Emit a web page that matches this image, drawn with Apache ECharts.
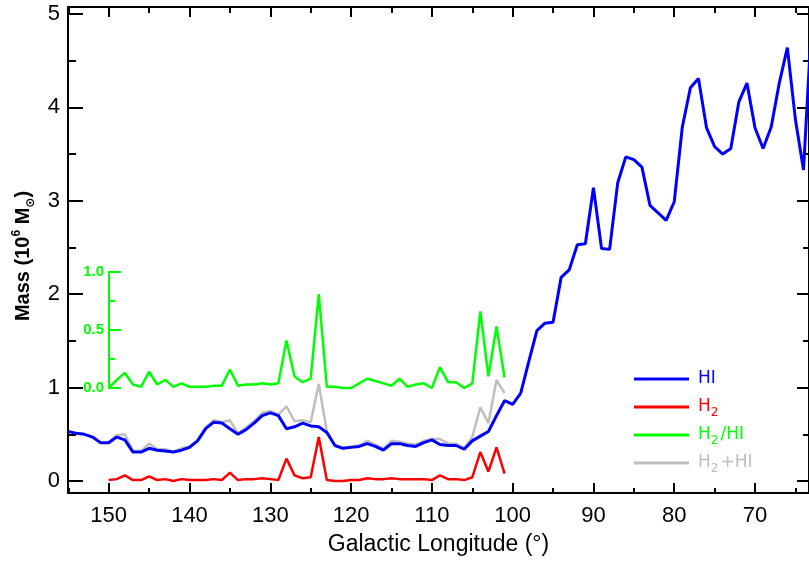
<!DOCTYPE html>
<html>
<head>
<meta charset="utf-8">
<script src="https://cdn.jsdelivr.net/npm/echarts@6/dist/echarts.min.js"></script>
<style>html,body{margin:0;padding:0;background:#fff;}#c{width:809px;height:562px;}</style>
</head>
<body>
<div id="c"></div>
<script>
// Longitudes (deg) and values
var hiLon = [155,154,153,152,151,150,149,148,147,146,145,144,143,142,141,140,139,138,137,136,135,134,133,132,131,130,129,128,127,126,125,124,123,122,121,120,119,118,117,116,115,114,113,112,111,110,109,108,107,106,105,104,103,102,101,100,99,98,97,96,95,94,93,92,91,90,89,88,87,86,85,84,83,82,81,80,79,78,77,76,75,74,73,72,71,70,69,68,67,66,65,64,63];
var hiMass = [0.53,0.51,0.50,0.47,0.41,0.41,0.47,0.44,0.31,0.31,0.35,0.33,0.32,0.31,0.33,0.36,0.43,0.56,0.63,0.62,0.56,0.50,0.55,0.62,0.70,0.73,0.70,0.56,0.58,0.62,0.59,0.58,0.52,0.38,0.35,0.36,0.37,0.40,0.37,0.33,0.40,0.40,0.38,0.37,0.41,0.44,0.39,0.38,0.38,0.34,0.43,0.48,0.53,0.70,0.86,0.82,0.94,1.28,1.61,1.69,1.70,2.18,2.26,2.53,2.54,3.14,2.49,2.48,3.19,3.47,3.44,3.36,2.95,2.87,2.79,2.99,3.79,4.21,4.31,3.78,3.58,3.50,3.56,4.06,4.26,3.78,3.56,3.79,4.26,4.64,3.87,3.33,4.90];
var h2Lon = [150,149,148,147,146,145,144,143,142,141,140,139,138,137,136,135,134,133,132,131,130,129,128,127,126,125,124,123,122,121,120,119,118,117,116,115,114,113,112,111,110,109,108,107,106,105,104,103,102,101];
var h2Mass = [0.01,0.02,0.06,0.01,0.01,0.05,0.01,0.02,0.00,0.02,0.01,0.01,0.01,0.02,0.01,0.09,0.01,0.02,0.02,0.03,0.02,0.01,0.24,0.06,0.03,0.04,0.47,0.01,0.00,0.00,0.01,0.01,0.03,0.02,0.02,0.03,0.02,0.02,0.02,0.02,0.01,0.06,0.02,0.02,0.01,0.04,0.31,0.10,0.36,0.08];
var ratio = [0.00,0.07,0.13,0.03,0.01,0.14,0.03,0.07,0.01,0.04,0.01,0.01,0.01,0.02,0.02,0.16,0.02,0.03,0.03,0.04,0.03,0.04,0.41,0.10,0.05,0.08,0.81,0.01,0.01,0.00,0.00,0.04,0.08,0.06,0.04,0.02,0.08,0.01,0.03,0.04,0.00,0.18,0.05,0.05,0.00,0.04,0.66,0.10,0.53,0.09];
var totalMass = [0.42,0.49,0.50,0.32,0.32,0.40,0.34,0.34,0.31,0.35,0.37,0.44,0.57,0.65,0.63,0.65,0.51,0.57,0.64,0.73,0.75,0.71,0.80,0.64,0.65,0.63,1.04,0.53,0.38,0.35,0.37,0.38,0.43,0.39,0.35,0.43,0.42,0.40,0.39,0.43,0.45,0.45,0.40,0.40,0.35,0.47,0.79,0.62,1.08,0.94];
var xMajor = [150,140,130,120,110,100,90,80,70];
var xMinor = [155,145,135,125,115,105,95,85,75,65];
var yMajor = [0,1,2,3,4,5];
var yMinor = [0.5,1.5,2.5,3.5,4.5];
var rMajor = [0,0.5,1];
var rMinor = [0.25,0.75];

function pairs(xs, ys){ return xs.map(function(x,i){ return [x, ys[i]]; }); }

var X_MIN = 63.32, X_MAX = 155.04, Y_MIN = -0.1285, Y_MAX = 5.075;
var BLK = '#000';
function xAx(pos, vals, len, labels, line, grid){
  return {
    type:'value', gridIndex: grid||0, position: pos, min: X_MIN, max: X_MAX, inverse: true,
    show: true,
    axisLine: {show: !!line, onZero:false, lineStyle:{color:BLK, width:2}},
    axisTick: {show:true, inside:true, length:len, lineStyle:{color:BLK, width:2}, customValues: vals},
    axisLabel: labels ? {show:true, customValues: vals, color:BLK, fontSize:22, fontFamily:'Liberation Sans', margin:12} : {show:false},
    splitLine:{show:false}
  };
}
function yAx(pos, vals, len, labels, line){
  return {
    type:'value', gridIndex:0, position: pos, min: Y_MIN, max: Y_MAX,
    axisLine: {show: !!line, onZero:false, lineStyle:{color:BLK, width:2}},
    axisTick: {show:true, inside:true, length:len, lineStyle:{color:BLK, width:2}, customValues: vals},
    axisLabel: labels ? {show:true, customValues: vals, color:BLK, fontSize:22, fontFamily:'Liberation Sans', margin:8} : {show:false},
    splitLine:{show:false}
  };
}

var xAxes = [
  xAx('bottom', xMajor, 10, true, true),
  xAx('bottom', xMinor, 5, false, false),
  xAx('top', xMajor, 10, false, true),
  xAx('top', xMinor, 6, false, false),
  {type:'value', gridIndex:1, min:X_MIN, max:X_MAX, inverse:true, show:false}
];
xAxes[0].name = 'Galactic Longitude (°)';
xAxes[0].nameLocation = 'middle';
xAxes[0].nameGap = 40;
xAxes[0].nameTextStyle = {color:BLK, fontSize:23, fontFamily:'Liberation Sans'};

var yAxes = [
  yAx('left', yMajor, 15, true, true),
  yAx('left', yMinor, 8, false, false),
  yAx('right', yMajor, 12, false, true),
  yAx('right', yMinor, 6, false, false)
];
yAxes[0].name = '{t|Mass (10}{sup|6}{t| M}{sub|⊙}{t|)}';
yAxes[0].nameLocation = 'middle';
yAxes[0].nameRotate = 90;
yAxes[0].nameGap = 23;
yAxes[0].nameTextStyle = {color:BLK, fontFamily:'Liberation Sans', fontWeight:'bold', fontSize:20, padding:[0,12,0,0],
  rich:{
    t:{fontSize:20, fontWeight:'bold', fontFamily:'Liberation Sans', color:BLK, lineHeight:26},
    sup:{fontSize:12, fontWeight:'bold', fontFamily:'Liberation Sans', color:BLK, verticalAlign:'top', lineHeight:26},
    sub:{fontSize:12, fontWeight:'bold', fontFamily:'DejaVu Sans', color:BLK, verticalAlign:'bottom', lineHeight:22}
  }};

var GREEN = '#00ff00', RED = '#ff0000', BLUE = '#0000ff', GRAY = '#bebebe';
function rAx(vals, len, labels){
  return {
    type:'value', gridIndex:1, position:'left', offset:-41, min:0, max:1,
    axisLine:{show:true, onZero:false, lineStyle:{color:GREEN, width:2}},
    axisTick:{show:true, inside:true, length:len, lineStyle:{color:GREEN, width:2}, customValues: vals},
    axisLabel: labels ? {show:true, customValues: vals, color:GREEN, fontSize:15, fontWeight:'bold', fontFamily:'Liberation Sans', margin:5,
      formatter:function(v){ return v.toFixed(1); }} : {show:false},
    splitLine:{show:false}
  };
}
yAxes.push(rAx(rMajor, 12, true));
yAxes.push(rAx(rMinor, 6, false));

function legendFor(name, color, top){
  var sub = {fontSize:12, fontFamily:'DejaVu Sans', color:color, verticalAlign:'bottom', lineHeight:24, padding:[0,2,0,0]};
  return {
    show:true, left:634, top:top, orient:'vertical', selectedMode:false, padding:0,
    itemWidth:55, itemHeight:3, icon:'rect',
    data:[{name:name, textStyle:{color:color}}],
    formatter:function(n){ return n.replace(/2/g,'{sub|2}'); },
    textStyle:{color:color, fontSize:17, fontFamily:'DejaVu Sans', lineHeight:24, padding:[0,0,0,4],
      rich:{sub:sub}}
  };
}

var option = {
  animation:false,
  backgroundColor:'#fff',
  grid:[
    {left:68, right:0, top:7, bottom:69, outerBoundsMode:'none', containLabel:false},
    {left:68, right:0, top:272, bottom:174, outerBoundsMode:'none', containLabel:false}
  ],
  xAxis: xAxes,
  yAxis: yAxes,
  legend:[
    legendFor('HI', BLUE, 367),
    legendFor('H2', RED, 395),
    legendFor('H2/HI', GREEN, 423),
    legendFor('H2+HI', GRAY, 451)
  ],
  series:[
    {name:'H2+HI', type:'line', xAxisIndex:0, yAxisIndex:0, data:pairs(h2Lon, totalMass), showSymbol:false, symbol:'none',
      color:GRAY, lineStyle:{color:GRAY, width:2.5}, z:1},
    {name:'HI', type:'line', xAxisIndex:0, yAxisIndex:0, data:pairs(hiLon, hiMass), showSymbol:false, symbol:'none',
      color:BLUE, lineStyle:{color:BLUE, width:3}, z:3},
    {name:'H2', type:'line', xAxisIndex:0, yAxisIndex:0, data:pairs(h2Lon, h2Mass), showSymbol:false, symbol:'none',
      color:RED, lineStyle:{color:RED, width:2.5}, z:3},
    {name:'H2/HI', type:'line', xAxisIndex:4, yAxisIndex:4, data:pairs(h2Lon, ratio), showSymbol:false, symbol:'none', clip:false,
      color:GREEN, lineStyle:{color:GREEN, width:2.5}, z:3}
  ]
};
var chart = echarts.init(document.getElementById('c'), null, {renderer:'canvas'});
chart.setOption(option);
</script>
</body>
</html>
